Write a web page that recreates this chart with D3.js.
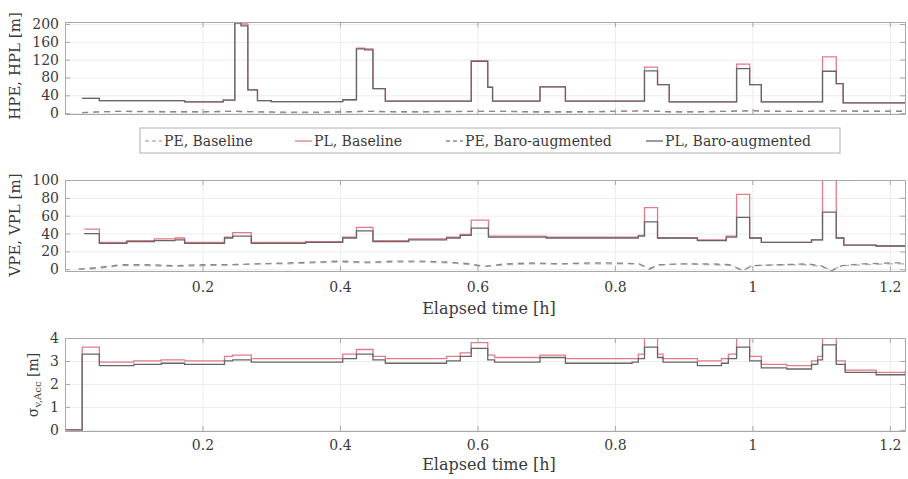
<!DOCTYPE html>
<html>
<head>
<meta charset="utf-8">
<script src="https://cdn.jsdelivr.net/npm/d3@7"></script>
<style>
   body { margin: 0; background: #fff; }
   svg { font-family: "DejaVu Serif", "Liberation Serif", serif; }
   .axis path, .axis line { stroke: #a8a8a8; }
   .axis text { fill: #3a3a3a; font-size: 14px; font-family: "DejaVu Serif", serif; }
   .grid line { stroke: #ececec; }
   .grid path { display: none; }
   .ylabel { fill: #3a3a3a; font-size: 15px; }
   .xlabel { fill: #3a3a3a; font-size: 16px; }
   .legend text { fill: #3a3a3a; font-size: 14px; }
</style>
</head>
<body>
<svg id="chart" width="908" height="479"></svg>
<script>
// ---- data (elapsed time in hours) ----
const timeTicks = [0.2, 0.4, 0.6, 0.8, 1, 1.2];
const hTicks = [0, 40, 80, 120, 160, 200];
const vTicks = [0, 20, 40, 60, 80, 100];
const sTicks = [0, 1, 2, 3, 4];

// horizontal protection level (step series)
const hplTime = [0.025, 0.05, 0.174, 0.23, 0.247, 0.256, 0.266, 0.28, 0.3, 0.404, 0.424, 0.436, 0.448, 0.466,
   0.591, 0.615, 0.622, 0.691, 0.728, 0.843, 0.862, 0.879, 0.977, 0.996, 1.013, 1.102, 1.122, 1.132, 1.222];
const hplBaseline = [33, 28, 25, 29, 205, 200, 52, 28, 26, 30, 146, 144, 55, 27,
   118, 58, 27, 59, 27, 103, 64, 25, 110, 64, 25, 126, 66, 23, 23];
const hplBaro = [33, 28, 25, 29, 202, 196, 52, 28, 26, 30, 144, 142, 55, 27,
   116, 58, 27, 59, 27, 95, 64, 25, 100, 64, 25, 94, 66, 23, 23];

// horizontal position error
const hpeTime = [0.025, 0.05, 0.08, 0.12, 0.16, 0.2, 0.24, 0.28, 0.32, 0.36, 0.4, 0.44, 0.48, 0.52, 0.56, 0.6,
   0.64, 0.68, 0.72, 0.76, 0.8, 0.84, 0.88, 0.92, 0.96, 1.0, 1.04, 1.08, 1.12, 1.16, 1.222];
const hpeBaseline = [1, 3, 4, 4, 3, 3, 4, 3, 1, 1, 2, 4, 3, 3, 3, 4, 4, 2, 2, 3, 4, 5, 3, 3, 4, 6, 4, 4, 5, 5, 5];
const hpeBaro = [1, 3, 4, 3, 3, 3, 4, 3, 2, 2, 3, 4, 3, 3, 4, 4, 4, 3, 3, 3, 4, 5, 3, 3, 4, 5, 4, 4, 5, 4, 4];

// vertical protection level (step series)
const vplTime = [0.028, 0.05, 0.09, 0.13, 0.16, 0.174, 0.232, 0.244, 0.271, 0.35, 0.404, 0.424, 0.448, 0.5,
   0.555, 0.575, 0.591, 0.616, 0.7, 0.834, 0.843, 0.862, 0.92, 0.962, 0.977, 0.996, 1.013, 1.086, 1.102,
   1.122, 1.133, 1.18, 1.222];
const vplBaseline = [45, 30, 32, 34, 35, 30, 36, 41, 30, 31, 36, 47, 32, 34,
   36, 39, 55, 37, 36, 38, 69, 35, 33, 37, 84, 35, 30, 33, 100,
   35, 27, 26, 26];
const vplBaro = [40, 29, 31, 32, 33, 29, 35, 37, 29, 30, 35, 43, 31, 33,
   35, 38, 46, 36, 35, 37, 53, 35, 32, 36, 58, 35, 30, 33, 64,
   35, 27, 26, 26];

// vertical position error
const vpeTime = [0.02, 0.05, 0.08, 0.12, 0.16, 0.2, 0.24, 0.28, 0.32, 0.36, 0.4, 0.44, 0.48, 0.52, 0.56, 0.59,
   0.61, 0.64, 0.68, 0.72, 0.76, 0.8, 0.835, 0.85, 0.865, 0.9, 0.94, 0.97, 0.985, 1.0, 1.04, 1.08, 1.1, 1.115,
   1.13, 1.16, 1.2, 1.222];
const vpeBaseline = [0, 1, 4, 4, 3, 4, 5, 6, 6, 7, 8, 7, 8, 8, 7, 5, 3, 5, 6, 6, 6, 6, 6, 1, 5, 6, 5, 4, -1, 4,
   5, 5, 3, -1, 4, 5, 6, 6];
const vpeBaro = [0, 2, 5, 5, 4, 5, 5, 6, 7, 8, 9, 8, 9, 9, 8, 6, 3, 6, 7, 6, 7, 7, 6, 0, 5, 6, 6, 5, -2, 4,
   5, 6, 4, -2, 4, 6, 7, 7];

// sigma_v,Acc (step series)
const sigTime = [0, 0.025, 0.05, 0.1, 0.14, 0.174, 0.232, 0.244, 0.271, 0.35, 0.404, 0.424, 0.448, 0.466,
   0.555, 0.575, 0.591, 0.615, 0.625, 0.691, 0.728, 0.825, 0.834, 0.843, 0.862, 0.87, 0.92, 0.955, 0.965,
   0.977, 0.996, 1.013, 1.05, 1.086, 1.095, 1.102, 1.122, 1.135, 1.18, 1.222];
const sigBaseline = [0, 3.6, 2.95, 3.0, 3.05, 3.0, 3.2, 3.25, 3.1, 3.1, 3.3, 3.5, 3.2, 3.1,
   3.2, 3.35, 3.8, 3.25, 3.15, 3.25, 3.1, 3.1, 3.3, 4.3, 3.3, 3.1, 3.0, 3.1, 3.3,
   4.3, 3.2, 2.85, 2.8, 3.0, 3.2, 4.3, 3.0, 2.6, 2.5, 2.55];
const sigBaro = [0, 3.3, 2.8, 2.85, 2.9, 2.85, 3.0, 3.05, 2.95, 2.95, 3.1, 3.3, 3.05, 2.9,
   3.0, 3.2, 3.55, 3.05, 2.95, 3.15, 2.9, 2.95, 3.1, 3.6, 3.15, 2.95, 2.8, 2.9, 3.1,
   3.6, 3.0, 2.7, 2.65, 2.85, 3.05, 3.7, 2.85, 2.5, 2.4, 2.45];

const legendLabels = ['PE, Baseline', 'PL, Baseline', 'PE, Baro-augmented', 'PL, Baro-augmented'];

const colBaseline = '#e47a89';
const colBaro = '#666666';
const colPEBase = '#c9a9ad';
const colPEBaro = '#8a8a8a';

class StepPanel {
   constructor(_config, _series) {
      this.config = {
         parentElement: _config.parentElement,
         id: _config.id,
         left: 65,
         right: 905,
         top: _config.top,
         bottom: _config.bottom,
         yDomain: _config.yDomain,
         yTicks: _config.yTicks,
         xLabels: _config.xLabels || false,
         xPad: _config.xPad || 10,
      };
      this.series = _series;
      this.initVis();
   }

   initVis() {
      const c = this.config;
      this.svg = d3.select(c.parentElement);
      this.xScale = d3.scaleLinear().domain([0, 1.222]).range([c.left, c.right]);
      this.yScale = d3.scaleLinear().domain(c.yDomain).range([c.bottom, c.top]);

      this.svg.append('clipPath').attr('id', 'clip-' + c.id)
         .append('rect')
         .attr('x', c.left).attr('y', c.top)
         .attr('width', c.right - c.left).attr('height', c.bottom - c.top);

      // faint grid
      this.svg.append('g').attr('class', 'grid')
         .attr('transform', `translate(0,${c.bottom})`)
         .call(d3.axisBottom(this.xScale).tickValues(timeTicks).tickSize(-(c.bottom - c.top)).tickFormat(''));
      this.svg.append('g').attr('class', 'grid')
         .attr('transform', `translate(${c.left},0)`)
         .call(d3.axisLeft(this.yScale).tickValues(c.yTicks).tickSize(-(c.right - c.left)).tickFormat(''));

      this.chart = this.svg.append('g').attr('clip-path', `url(#clip-${c.id})`);

      // box with inward ticks on all four sides
      this.svg.append('g').attr('class', 'axis')
         .attr('transform', `translate(${c.left},0)`)
         .call(d3.axisLeft(this.yScale).tickValues(c.yTicks).tickSize(-5).tickSizeOuter(0).tickPadding(6)
            .tickFormat((d) => d));
      this.svg.append('g').attr('class', 'axis')
         .attr('transform', `translate(${c.right},0)`)
         .call(d3.axisRight(this.yScale).tickValues(c.yTicks).tickSize(-5).tickSizeOuter(0).tickFormat(''));
      this.svg.append('g').attr('class', 'axis')
         .attr('transform', `translate(0,${c.top})`)
         .call(d3.axisTop(this.xScale).tickValues(timeTicks).tickSize(-5).tickSizeOuter(0).tickFormat(''));
      this.svg.append('g').attr('class', 'axis')
         .attr('transform', `translate(0,${c.bottom})`)
         .call(d3.axisBottom(this.xScale).tickValues(timeTicks).tickSize(-5).tickSizeOuter(0)
            .tickPadding(c.xPad).tickFormat(c.xLabels ? (d) => d : ''));

      this.updateVis();
   }

   updateVis() {
      this.series.forEach((s) => {
         const pts = s.time.map((t, i) => ({ t: t, v: s.values[i] }));
         const line = d3.line()
            .x((d) => this.xScale(d.t))
            .y((d) => this.yScale(d.v))
            .curve(s.step ? d3.curveStepAfter : d3.curveLinear);
         this.chart.append('path')
            .datum(pts)
            .attr('fill', 'none')
            .attr('stroke', s.color)
            .attr('stroke-width', s.width || 1.3)
            .attr('stroke-dasharray', s.dash || null)
            .attr('d', line);
      });
   }
}

const svg = d3.select('#chart');

new StepPanel(
   { parentElement: '#chart', id: 'h', top: 22, bottom: 114, yDomain: [-2, 204.5], yTicks: hTicks },
   [
      { time: hpeTime, values: hpeBaseline, color: colPEBase, dash: '6,5' },
      { time: hplTime, values: hplBaseline, color: colBaseline, step: true },
      { time: hpeTime, values: hpeBaro, color: colPEBaro, dash: '6,5' },
      { time: hplTime, values: hplBaro, color: colBaro, step: true },
   ]
);

new StepPanel(
   { parentElement: '#chart', id: 'v', top: 180, bottom: 271, yDomain: [-2, 100], yTicks: vTicks,
     xLabels: true, xPad: 11 },
   [
      { time: vpeTime, values: vpeBaseline, color: colPEBase, dash: '6,5' },
      { time: vplTime, values: vplBaseline, color: colBaseline, step: true },
      { time: vpeTime, values: vpeBaro, color: colPEBaro, dash: '6,5' },
      { time: vplTime, values: vplBaro, color: colBaro, step: true },
   ]
);

new StepPanel(
   { parentElement: '#chart', id: 's', top: 338, bottom: 431, yDomain: [-0.05, 4], yTicks: sTicks,
     xLabels: true, xPad: 9 },
   [
      { time: sigTime, values: sigBaseline, color: colBaseline, step: true },
      { time: sigTime, values: sigBaro, color: colBaro, step: true },
   ]
);

// axis titles
svg.append('text').attr('class', 'ylabel')
   .attr('transform', 'translate(20,66) rotate(-90)')
   .attr('text-anchor', 'middle')
   .text('HPE, HPL [m]');
svg.append('text').attr('class', 'ylabel')
   .attr('transform', 'translate(20,225) rotate(-90)')
   .attr('text-anchor', 'middle')
   .text('VPE, VPL [m]');
const sig = svg.append('text').attr('class', 'ylabel')
   .attr('transform', 'translate(38,385) rotate(-90)')
   .attr('text-anchor', 'middle')
   .style('font-size', '14px');
sig.append('tspan').text('σ');
sig.append('tspan').attr('dy', 3).attr('font-size', 10).text('v,Acc');
sig.append('tspan').attr('dy', -3).text(' [m]');

svg.append('text').attr('class', 'xlabel')
   .attr('x', 489).attr('y', 314).attr('text-anchor', 'middle')
   .text('Elapsed time [h]');
svg.append('text').attr('class', 'xlabel')
   .attr('x', 489).attr('y', 470).attr('text-anchor', 'middle')
   .text('Elapsed time [h]');

// legend
const legendX = [145, 295, 446, 646];
const legendStyle = [
   { color: colPEBase, dash: '4,3' },
   { color: colBaseline, dash: null },
   { color: colPEBaro, dash: '4,3' },
   { color: colBaro, dash: null },
];
const legend = svg.append('g').attr('class', 'legend');
legend.append('rect')
   .attr('x', 140).attr('y', 128).attr('width', 700).attr('height', 25)
   .attr('fill', '#fff').attr('stroke', '#b0b0b0');
legendLabels.forEach((lab, i) => {
   legend.append('line')
      .attr('x1', legendX[i]).attr('x2', legendX[i] + 17)
      .attr('y1', 141).attr('y2', 141)
      .attr('stroke', legendStyle[i].color).attr('stroke-width', 1.3)
      .attr('stroke-dasharray', legendStyle[i].dash);
   legend.append('text')
      .attr('x', legendX[i] + 19).attr('y', 146)
      .text(lab);
});
</script>
</body>
</html>
